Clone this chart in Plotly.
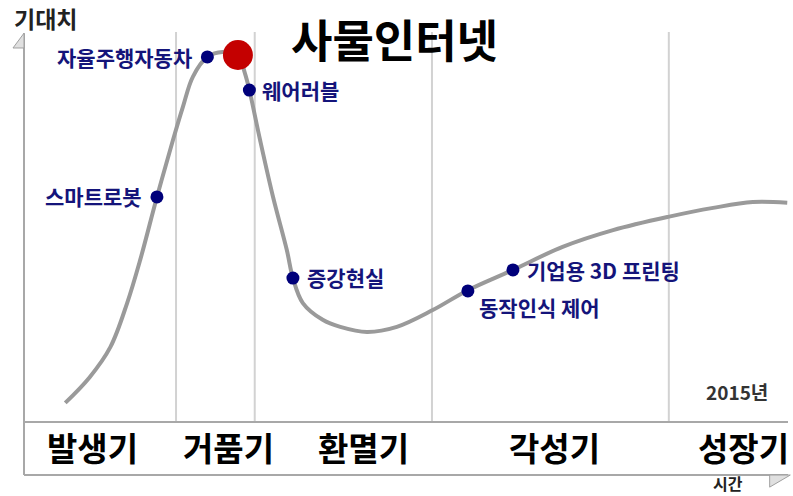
import plotly.graph_objects as go

# Hype-cycle curve (time 0-100, expectation 0-100)
curve_t = [5.4, 8.6, 11.3, 13.5, 15.2, 17.4, 19.5, 20.8, 22.1, 24.0, 26.0, 28.1, 28.9, 29.5,
           30.9, 32.6, 34.4, 35.2, 36.5, 39.1, 41.4, 44.9, 48.8, 53.5, 58.1, 64.0, 70.5,
           77.1, 84.3, 90.2, 95.4, 99.9]
curve_e = [4.9, 11.5, 19.2, 30.5, 41.5, 57.7, 72.3, 80.8, 88.5, 93.6, 94.9, 93.8, 89.5, 85.1,
           72.3, 57.7, 44.1, 36.9, 30.5, 26.2, 24.4, 23.1, 24.4, 28.7, 33.8, 39.0, 44.9,
           49.2, 52.6, 54.9, 56.4, 56.2]

# Technologies on the curve
tech_names = ["스마트로봇", "자율주행자동차", "웨어러블", "증강현실", "동작인식 제어", "기업용 3D 프린팅"]
tech_t = [17.4, 24.0, 29.5, 35.2, 58.1, 64.0]
tech_e = [57.7, 93.6, 85.1, 36.9, 33.6, 39.0]

# Highlighted technology
focus_name = "사물인터넷"
focus_t = 28.0
focus_e = 94.1

# Phases
phase_names = ["발생기", "거품기", "환멸기", "각성기", "성장기"]
phase_bounds = [19.9, 30.2, 53.4, 84.4]
phase_centers = [9.0, 26.8, 44.5, 69.5, 94.2]

year_label = "2015년"
y_title = "기대치"
x_title = "시간"

FONT = "Noto Sans CJK KR"
NAVY = "#14147a"
DOT = "#00007a"

fig = go.Figure()

shapes = []
for b in phase_bounds:
    shapes.append(dict(type="line", xref="x", yref="paper", x0=b, x1=b, y0=0, y1=1.0,
                       line=dict(color="#d2d2d2", width=2), layer="below"))
ax_col = "#a8a8a8"
shapes += [
    dict(type="line", xref="paper", yref="paper", x0=0, x1=0, y0=-0.136, y1=0.997,
         line=dict(color=ax_col, width=2)),
    dict(type="line", xref="paper", yref="paper", x0=0, x1=1, y0=0, y1=0,
         line=dict(color=ax_col, width=2)),
    dict(type="line", xref="paper", yref="paper", x0=0, x1=1, y0=-0.136, y1=-0.136,
         line=dict(color=ax_col, width=2)),
    dict(type="path", xref="paper", yref="paper",
         path="M -0.0144 0.959 L 0 0.997 L 0 0.959 Z",
         fillcolor="#e0e0e0", line=dict(color="#a0a0a0", width=1)),
    dict(type="path", xref="paper", yref="paper",
         path="M 0.976 -0.136 L 1.003 -0.136 L 0.976 -0.167 Z",
         fillcolor="#e0e0e0", line=dict(color="#a0a0a0", width=1)),
]

fig.add_trace(go.Scatter(x=curve_t, y=curve_e, mode="lines",
                         line=dict(color="#9a9a9a", width=4, shape="spline", smoothing=1.0),
                         hoverinfo="skip", showlegend=False))
fig.add_trace(go.Scatter(x=tech_t, y=tech_e, mode="markers",
                         marker=dict(color=DOT, size=13), showlegend=False))
fig.add_trace(go.Scatter(x=[focus_t], y=[focus_e], mode="markers",
                         marker=dict(color="#c40000", size=30), showlegend=False))

ann = []
placement = [("right", -13, 1), ("right", -13, 0), ("left", 11, 0), ("left", 12, 1),
             ("left", 9, -16), ("left", 12, 0)]
for name, t, e, (xa, xs, ys) in zip(tech_names, tech_t, tech_e, placement):
    ann.append(dict(x=t, y=e, xref="x", yref="y", text="<b>%s</b>" % name, showarrow=False,
                    xanchor=xa, yanchor="middle", xshift=xs, yshift=ys,
                    font=dict(family=FONT, size=21, color=NAVY)))
ann.append(dict(x=focus_t, y=focus_e, xref="x", yref="y", text="<b>%s</b>" % focus_name,
                showarrow=False, xanchor="left", yanchor="middle", xshift=51, yshift=17,
                font=dict(family=FONT, size=45, color="#000000")))
for name, c in zip(phase_names, phase_centers):
    ann.append(dict(x=c, y=-0.064, xref="x", yref="paper", text="<b>%s</b>" % name,
                    showarrow=False, xanchor="center", yanchor="middle",
                    font=dict(family=FONT, size=33, color="#000000")))
ann.append(dict(x=0.976, y=0.077, xref="paper", yref="paper", text="<b>%s</b>" % year_label,
                showarrow=False, xanchor="right", yanchor="middle",
                font=dict(family=FONT, size=19, color="#333333")))
ann.append(dict(x=-0.016, y=1.036, xref="paper", yref="paper", text="<b>%s</b>" % y_title,
                showarrow=False, xanchor="left", yanchor="middle",
                font=dict(family=FONT, size=23, color="#222222")))
ann.append(dict(x=0.922, y=-0.1885, xref="paper", yref="paper", text="<b>%s</b>" % x_title,
                showarrow=False, xanchor="center", yanchor="bottom", borderpad=0,
                font=dict(family=FONT, size=16, color="#222222")))

fig.update_layout(
    width=793, height=496,
    margin=dict(l=24, r=5, t=32, b=74),
    paper_bgcolor="white", plot_bgcolor="white",
    xaxis=dict(range=[0, 100], visible=False, fixedrange=True),
    yaxis=dict(range=[0, 100], visible=False, fixedrange=True),
    shapes=shapes, annotations=ann, showlegend=False,
)
fig.write_html("out.html")
